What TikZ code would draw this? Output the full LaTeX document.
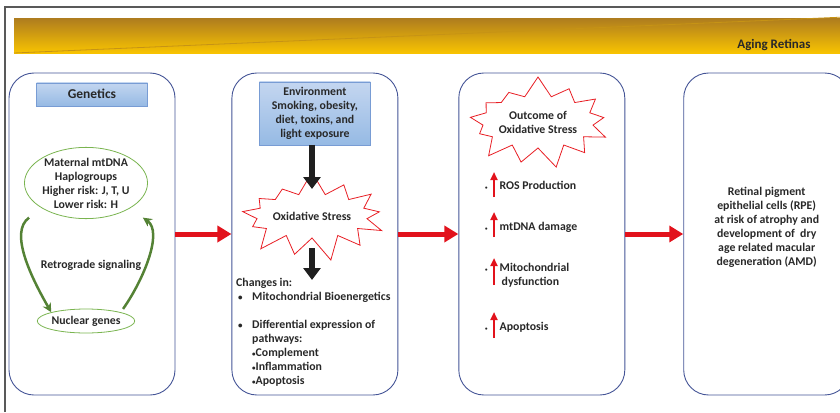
\documentclass[tikz,border=0pt]{standalone}
\usepackage{fontspec}
\setmainfont{Carlito}
\usetikzlibrary{positioning, shapes.geometric, shapes.symbols, arrows.meta}
\definecolor{panelblue}{RGB}{68,84,150}
\definecolor{leafgreen}{RGB}{122,180,80}
\definecolor{darkleaf}{RGB}{84,130,53}
\definecolor{burstred}{RGB}{232,30,36}
\definecolor{arrowred}{RGB}{226,18,28}
\definecolor{goldtop}{RGB}{176,126,30}
\definecolor{goldbot}{RGB}{250,197,0}
\definecolor{inktext}{RGB}{40,40,40}
\definecolor{labeltop}{RGB}{196,214,240}
\definecolor{labelbot}{RGB}{150,186,228}
\definecolor{labeledge}{RGB}{120,156,212}
\tikzset{
    x=1pt, y=1pt,
    node distance=57pt,
    every node/.style={font=\bfseries\fontsize{11.8}{14}\selectfont, text=inktext},
    panel/.style={draw=panelblue, line width=0.9pt, rounded corners=25pt,
        minimum width=166pt, minimum height=322pt},
    tag/.style={draw=labeledge, top color=labeltop, bottom color=labelbot,
        minimum width=111pt, align=center},
    gene/.style={ellipse, draw=leafgreen, line width=0.8pt, align=center, inner sep=0pt},
    burst/.style={starburst, draw=burstred, line width=0.8pt, fill=white,
        starburst points=13, random starburst=7,
        align=center, inner sep=0pt},
    redarr/.style={draw=arrowred, line width=5pt, -{Triangle[length=14pt,width=16pt]}},
    downarr/.style={draw=black!88, line width=6pt, -{Triangle[length=12pt,width=17pt]}},
    uparr/.style={draw=arrowred, line width=2.2pt, -{Triangle[length=8pt,width=7pt]}},
    loopgreen/.style={draw=darkleaf, line width=2.5pt, -{Stealth[length=9pt,width=9pt]}},
}

\begin{document}
\begin{tikzpicture}
\useasboundingbox (0,0) rectangle (840,-412);
\clip (0,0) rectangle (840,-412);

% frame and banner
\draw[black!65, line width=1.3pt] (5,-412) -- (5,-7) -- (845,-7);
\shade[top color=goldtop, bottom color=goldbot] (14,-19) rectangle (845,-54);
\draw[goldtop!70!goldbot, line width=0.8pt] (14,-53) -- (845,-17);
\node[anchor=east, font=\bfseries\fontsize{13}{15}\selectfont] (title) at (814,-45) {Aging Retinas};

% panels
\node[panel] (gen) at (92,-234) {};
\node[panel] (envp) [right=56pt of gen] {};
\node[panel] (outp) [right=60pt of envp] {};
\node[panel] (rpe) [right=58pt of outp] {};

% genetics
\node[tag, minimum height=23pt, font=\bfseries\fontsize{13.5}{15}\selectfont] (genlabel) [below=10pt of gen.north] {Genetics};
\node[gene, minimum width=110pt, minimum height=69pt] (mtdna) at (86,-183)
    {Maternal mtDNA\\Haplogroups\\Higher risk: J, T, U\\Lower risk: H};
\node[gene, minimum width=94pt, minimum height=24pt] (nuc) at (86,-321) {Nuclear genes};
\node (retro) at (91,-265) {Retrograde signaling};
\draw[loopgreen, shorten <=16pt] (mtdna.south west) to[out=215, in=120] (nuc.north west);
\draw[loopgreen, shorten <=4pt, shorten >=16pt] (nuc.north east) to[out=55, in=-35] (mtdna.south east);

% environment
\node[tag, minimum height=63pt] (env) [below=9pt of envp.north]
    {Environment\\Smoking, obesity,\\diet, toxins, and\\light exposure};
\node[burst, minimum width=132pt, minimum height=92pt, starburst point height=24pt] (ox) at (312,-216) {Oxidative Stress};
\node[anchor=north west, align=left, inner sep=0pt] (chg) at (236,-278) {Changes in:\\
\hspace*{2pt}\makebox[14pt][l]{\small\textbullet}Mitochondrial Bioenergetics\\[14pt]
\hspace*{2pt}\makebox[14pt][l]{\small\textbullet}Differential expression of\\
\hspace*{16pt}pathways:\\
\hspace*{16pt}{\scriptsize\textbullet}Complement\\
\hspace*{16pt}{\scriptsize\textbullet}Inflammation\\
\hspace*{16pt}{\scriptsize\textbullet}Apoptosis};
\draw[downarr] (env.south -| ox) -- ([yshift=27pt]ox.center);
\draw[downarr] ([yshift=-32pt]ox.center) -- ([yshift=-2pt]ox.center |- chg.north);

% outcome
\node[burst, minimum width=146pt, minimum height=94pt, starburst point height=21pt] (outc) at (538,-122) {Outcome of\\Oxidative Stress};
\node[anchor=west, inner sep=0pt] (ros) at (485,-185) {{\tiny\textbullet}\hspace{12pt}ROS Production};
\node[anchor=west, inner sep=0pt] (dna) at (485,-227) {{\tiny\textbullet}\hspace{12pt}mtDNA damage};
\node[anchor=west, inner sep=0pt, align=left] (mdys) at (485,-275)
    {{\tiny\textbullet}\hspace{12pt}Mitochondrial\\\hspace*{16.5pt}dysfunction};
\node[anchor=west, inner sep=0pt] (apo) at (485,-327) {{\tiny\textbullet}\hspace{12pt}Apoptosis};
\draw[uparr] ([xshift=9pt, yshift=-12pt]ros.west) -- ([xshift=9pt, yshift=13pt]ros.west);
\draw[uparr] ([xshift=9pt, yshift=-10pt]dna.west) -- ([xshift=9pt, yshift=15pt]dna.west);
\draw[uparr] ([xshift=9pt, yshift=-10pt]mdys.west) -- ([xshift=9pt, yshift=17pt]mdys.west);
\draw[uparr] ([xshift=9pt, yshift=-11pt]apo.west) -- ([xshift=9pt, yshift=15pt]apo.west);

% outcome panel text
\node[align=center] (rpetxt) at ([yshift=7pt]rpe.center) {Retinal pigment\\epithelial cells (RPE)\\at risk of atrophy and\\development of\ \ dry\\age related macular\\degeneration (AMD)};

% connectors between panels
\draw[redarr] (gen) -- (envp);
\draw[redarr] (envp) -- (outp);
\draw[redarr] (outp) -- (rpe);

\end{tikzpicture}
\end{document}
